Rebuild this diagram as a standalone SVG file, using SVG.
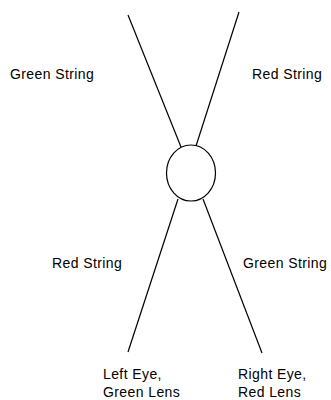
<svg xmlns="http://www.w3.org/2000/svg" width="331" height="400" viewBox="0 0 331 400">
<style>
text{font-family:"Liberation Sans",Arial,sans-serif;font-size:14px;letter-spacing:0.4px;fill:#000}
.s{stroke:#000;stroke-width:1.2;fill:none}
</style>
<rect width="331" height="400" fill="#fff"/>
<g id="connectors">
<line class="s" x1="128" y1="15" x2="181" y2="147"/>
<line class="s" x1="239" y1="12" x2="196" y2="146"/>
<line class="s" x1="178" y1="199" x2="128" y2="352"/>
<line class="s" x1="203" y1="199" x2="262" y2="353"/>
</g>
<g id="lens"><ellipse class="s" cx="191" cy="173" rx="24.5" ry="28"/></g>
<g id="label-green-top"><text x="10" y="79">Green String</text></g>
<g id="label-red-top"><text x="252" y="79">Red String</text></g>
<g id="label-red-bottom"><text x="52" y="268">Red String</text></g>
<g id="label-green-bottom"><text x="243" y="268">Green String</text></g>
<g id="left-eye"><text x="103" y="379">Left Eye,</text><text x="103" y="397">Green Lens</text></g>
<g id="right-eye"><text x="238" y="379">Right Eye,</text><text x="238" y="397">Red Lens</text></g>
</svg>
